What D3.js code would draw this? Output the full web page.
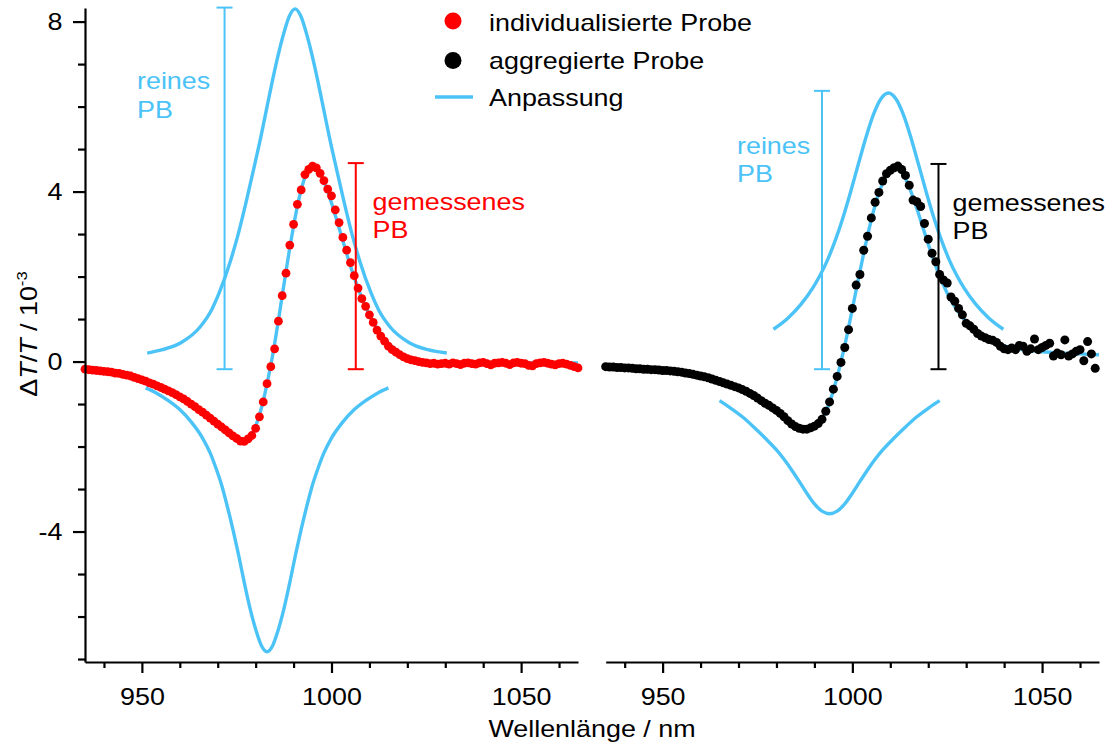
<!DOCTYPE html>
<html><head><meta charset="utf-8">
<script src="https://cdn.jsdelivr.net/npm/d3@7"></script>
<style>body{margin:0;background:#fff} svg{display:block}</style>
</head><body><svg id="chart" width="1109" height="746"></svg>
<script>
// ---------- data ----------
const xDomain = [935, 1065];
const yDomain = [-7.07, 8.32];
const xMajorTicks = [950, 1000, 1050];
const xMinorTicks = [940, 960, 970, 980, 990, 1010, 1020, 1030, 1040, 1060];
const yMajorTicks = [-4, 0, 4, 8];
const yMinorTicks = [-7, -6, -5, -3, -2, -1, 1, 2, 3, 5, 6, 7];

// individualisierte Probe (red), 935..1065 nm
const redX = [935,936,937,938,939,940,941,942,943,944,945,946,947,948,949,950,951,952,953,954,955,956,957,958,959,960,961,962,963,964,965,966,967,968,969,970,971,972,973,974,975,976,977,978,979,980,981,982,983,984,985,986,987,988,989,990,991,992,993,994,995,996,997,998,999,1000,1001,1002,1003,1004,1005,1006,1007,1008,1009,1010,1011,1012,1013,1014,1015,1016,1017,1018,1019,1020,1021,1022,1023,1024,1025,1026,1027,1028,1029,1030,1031,1032,1033,1034,1035,1036,1037,1038,1039,1040,1041,1042,1043,1044,1045,1046,1047,1048,1049,1050,1051,1052,1053,1054,1055,1056,1057,1058,1059,1060,1061,1062,1063,1064,1065];
const redY = [
-0.18,-0.19,-0.20,-0.21,-0.22,-0.23,-0.24,-0.25,-0.27,-0.28,
-0.30,-0.32,-0.34,-0.37,-0.40,-0.43,-0.46,-0.50,-0.53,-0.57,
-0.61,-0.65,-0.69,-0.73,-0.78,-0.83,-0.88,-0.94,-1.00,-1.06,
-1.13,-1.19,-1.26,-1.33,-1.40,-1.47,-1.54,-1.61,-1.68,-1.75,
-1.81,-1.87,-1.88,-1.82,-1.74,-1.57,-1.30,-0.95,-0.52,-0.12,
0.30,0.95,1.55,2.08,2.74,3.23,3.70,4.04,4.40,4.52,
4.60,4.56,4.43,4.26,4.06,3.90,3.57,3.27,2.92,2.62,
2.33,2.02,1.73,1.48,1.30,1.10,0.92,0.74,0.60,0.48,
0.36,0.28,0.22,0.16,0.11,0.07,0.04,0.02,0.00,-0.02,
-0.03,-0.05,-0.04,-0.06,-0.05,-0.04,-0.06,-0.03,-0.05,-0.07,
-0.04,-0.03,-0.05,-0.06,-0.03,-0.02,-0.05,-0.08,-0.04,-0.03,
-0.02,-0.04,-0.07,-0.03,-0.02,-0.04,-0.05,-0.09,-0.10,-0.05,
-0.03,-0.02,-0.04,-0.06,-0.08,-0.05,-0.04,-0.06,-0.09,-0.12,
-0.15];

// aggregierte Probe (black), 935..1064 nm
const blackX = [935,936,937,938,939,940,941,942,943,944,945,946,947,948,949,950,951,952,953,954,955,956,957,958,959,960,961,962,963,964,965,966,967,968,969,970,971,972,973,974,975,976,977,978,979,980,981,982,983,984,985,986,987,988,989,990,991,992,993,994,995,996,997,998,999,1000,1001,1002,1003,1004,1005,1006,1007,1008,1009,1010,1011,1012,1013,1014,1015,1016,1017,1018,1019,1020,1021,1022,1023,1024,1025,1026,1027,1028,1029,1030,1031,1032,1033,1034,1035,1036,1037,1038,1039,1040,1041,1042,1043,1044,1045,1046,1047,1048,1049,1050,1051,1052,1053,1054,1055,1056,1057,1058,1059,1060,1061,1062,1063,1064];
const blackY = [
-0.12,-0.13,-0.13,-0.14,-0.14,-0.15,-0.15,-0.16,-0.17,-0.17,
-0.18,-0.18,-0.19,-0.19,-0.20,-0.21,-0.21,-0.22,-0.23,-0.24,
-0.25,-0.27,-0.28,-0.30,-0.32,-0.34,-0.36,-0.38,-0.41,-0.44,
-0.47,-0.50,-0.53,-0.56,-0.59,-0.62,-0.66,-0.70,-0.75,-0.80,
-0.86,-0.92,-0.98,-1.03,-1.09,-1.15,-1.22,-1.30,-1.39,-1.47,
-1.53,-1.57,-1.59,-1.59,-1.56,-1.52,-1.46,-1.36,-1.17,-0.95,
-0.65,-0.35,-0.02,0.33,0.75,1.25,1.80,2.05,2.62,2.95,
3.38,3.75,3.98,4.25,4.42,4.50,4.56,4.60,4.52,4.38,
4.15,3.80,3.76,3.65,3.25,2.88,2.55,2.35,2.05,1.92,
1.85,1.52,1.42,1.25,1.10,0.90,0.84,0.76,0.66,0.60,
0.56,0.52,0.50,0.45,0.36,0.30,0.28,0.32,0.28,0.38,
0.36,0.24,0.30,0.53,0.28,0.33,0.38,0.43,0.13,0.20,
0.16,0.51,0.13,0.18,0.24,0.28,0.02,0.47,0.18,-0.16];

// Anpassung (fit) curves
const fitLX = [935,940,945,950,955,960,965,968,971,974,976,977.5,979,980,981,982,983,984,985,986,987,988,989,990,991,992,993,994,995,996,997,998,999,1000,1001,1002,1003,1004,1005,1006,1007,1008,1009,1010,1012,1014,1016,1018,1020,1023,1027,1035,1045,1055,1065];
const fitLY = [-0.18,-0.23,-0.30,-0.43,-0.61,-0.83,-1.13,-1.33,-1.54,-1.75,-1.85,-1.87,-1.72,-1.52,-1.25,-0.93,-0.52,-0.08,0.42,0.97,1.55,2.12,2.68,3.19,3.66,4.04,4.34,4.52,4.58,4.54,4.42,4.23,4.00,3.73,3.44,3.14,2.84,2.54,2.25,1.98,1.73,1.50,1.29,1.10,0.78,0.53,0.35,0.21,0.11,0.02,-0.02,-0.03,-0.03,-0.03,-0.03];
const fitRX = [935,945,955,965,970,975,980,983,985,987,988.5,990,991.5,993,994,995,996,997,998,999,1000,1001,1002,1003,1004,1005,1006,1007,1008,1009,1010,1011,1012,1013,1014,1015,1016,1017,1018,1019,1020,1021,1022,1023,1024,1025,1026,1028,1030,1032,1034,1036,1038,1040,1045,1050,1055,1060,1065];
const fitRY = [-0.12,-0.18,-0.25,-0.47,-0.62,-0.86,-1.15,-1.37,-1.50,-1.57,-1.58,-1.52,-1.40,-1.18,-0.96,-0.68,-0.36,0.00,0.38,0.80,1.24,1.68,2.12,2.55,2.96,3.34,3.68,3.97,4.20,4.38,4.50,4.55,4.53,4.45,4.30,4.10,3.86,3.60,3.32,3.04,2.76,2.49,2.24,2.01,1.80,1.61,1.44,1.16,0.94,0.77,0.63,0.52,0.43,0.37,0.28,0.23,0.20,0.18,0.16];

// reines PB (pure photobleaching) components
const pureLPosX = [951.4,955.4,960.4,965.4,968.4,970.4,973.4,975.4,977.4,979.4,981.4,982.9,984.4,985.9,987.4,988.9,990.4,991.9,993.4,994.9,996.4,997.9,999.4,1001.4,1003.4,1005.4,1007.4,1010.4,1012.4,1015.4,1020.4,1025.4,1030.4];
const pureLPosY = [0.20,0.28,0.45,0.82,1.22,1.62,2.38,3.00,3.72,4.50,5.30,5.95,6.60,7.20,7.72,8.13,8.30,8.13,7.72,7.20,6.60,5.95,5.30,4.50,3.72,3.00,2.38,1.62,1.22,0.82,0.45,0.28,0.20];
const pureLNegX = [951,954,957,960,963,966,968,969.5,971,972.5,974,975.5,977,978.5,980,981.5,983,984.5,986,987.5,989,990.5,992,993.5,995,996.5,998,1000,1003,1006,1009,1012,1015];
const pureLNegY = [-0.62,-0.75,-0.92,-1.13,-1.42,-1.80,-2.15,-2.50,-2.90,-3.40,-3.95,-4.55,-5.20,-5.80,-6.30,-6.68,-6.83,-6.68,-6.30,-5.80,-5.20,-4.55,-3.95,-3.40,-2.90,-2.50,-2.15,-1.80,-1.42,-1.13,-0.92,-0.75,-0.62];
const pureRPosX = [979.2,983,986.5,989.5,991.5,993.5,995.5,997.5,999.5,1001.5,1003.5,1005.5,1007.5,1009.5,1011.5,1013.5,1015.5,1017.5,1019.5,1021.5,1023.5,1025.5,1027.5,1029.5,1032.5,1036,1039.8];
const pureRPosY = [0.76,1.02,1.35,1.72,2.03,2.40,2.85,3.38,3.98,4.62,5.25,5.80,6.18,6.32,6.18,5.80,5.25,4.62,3.98,3.38,2.85,2.40,2.03,1.72,1.35,1.02,0.76];
const pureRNegX = [965,968,971,974,977,980,982,984,986,988,990,992,994,996,998,1000,1002,1004,1006,1008,1011,1014,1017,1020,1023];
const pureRNegY = [-0.92,-1.10,-1.30,-1.54,-1.80,-2.08,-2.30,-2.55,-2.82,-3.10,-3.35,-3.52,-3.58,-3.52,-3.35,-3.10,-2.82,-2.55,-2.30,-2.08,-1.80,-1.54,-1.30,-1.10,-0.92];

// annotation bars (panel, wavelength, from, to)
const barPanels = ['L', 'L', 'R', 'R'];
const barX = [971.8, 1006.4, 992.0, 1022.7];
const barLow = [-0.18, -0.18, -0.18, -0.18];
const barHigh = [8.33, 4.67, 6.37, 4.65];
const barKinds = ['pure', 'red', 'pure', 'black'];

const legendLabels = ['individualisierte Probe', 'aggregierte Probe', 'Anpassung'];
const annoPure = ['reines', 'PB'];
const annoMeas = ['gemessenes', 'PB'];
const xTitle = 'Wellenlänge / nm';

// ---------- drawing ----------
const BLUE = '#4cc3f7', RED = '#ff0000', BLACK = '#000000';
const FONT = "'Liberation Sans', Arial, Helvetica, sans-serif";
const FS = 24, STRETCH = 1.12;
const colorOf = {pure: BLUE, red: RED, black: BLACK};

const svg = d3.select('#chart');
svg.append('rect').attr('width', 1109).attr('height', 746).attr('fill', '#fff');

const xL = d3.scaleLinear().domain(xDomain).range([85, 578]);
const xR = d3.scaleLinear().domain(xDomain).range([605.7, 1099]);
const y = d3.scaleLinear().domain(yDomain).range([662, 8]);
const xs = {L: xL, R: xR};

const zip = (a, b) => a.map((v, i) => [v, b[i]]);
const lineFor = x => d3.line().x(d => x(d[0])).y(d => y(d[1])).curve(d3.curveMonotoneX);

function curve(x, X, Y, w) {
  svg.append('path').datum(zip(X, Y)).attr('d', lineFor(x))
    .attr('fill', 'none').attr('stroke', BLUE).attr('stroke-width', w)
    .attr('stroke-linecap', 'butt').attr('stroke-linejoin', 'round');
}
curve(xL, pureLPosX, pureLPosY, 3.4);
curve(xL, pureLNegX, pureLNegY, 3.4);
curve(xR, pureRPosX, pureRPosY, 3.4);
curve(xR, pureRNegX, pureRNegY, 3.4);
curve(xL, fitLX, fitLY, 3.4);
curve(xR, fitRX, fitRY, 3.4);

// error bars
barX.forEach((bx, i) => {
  const x = xs[barPanels[i]], c = colorOf[barKinds[i]];
  const g = svg.append('g').attr('stroke', c).attr('stroke-width', 2);
  const px = x(bx);
  g.append('line').attr('x1', px).attr('x2', px).attr('y1', y(barLow[i])).attr('y2', y(barHigh[i]));
  [barLow[i], barHigh[i]].forEach(v => g.append('line').attr('x1', px - 8).attr('x2', px + 8).attr('y1', y(v)).attr('y2', y(v)));
});

// data points
svg.append('g').selectAll('circle').data(zip(redX, redY)).join('circle')
  .attr('cx', d => xL(d[0])).attr('cy', d => y(d[1])).attr('r', 4.4).attr('fill', RED);
svg.append('g').selectAll('circle').data(zip(blackX, blackY)).join('circle')
  .attr('cx', d => xR(d[0])).attr('cy', d => y(d[1])).attr('r', 4.5).attr('fill', BLACK);

// axes
function styleAxis(g) {
  g.attr('font-family', FONT).attr('font-size', FS);
  g.selectAll('path,line').attr('stroke', '#000').attr('stroke-width', 2.2);
  g.selectAll('text').attr('fill', '#000');
}
svg.append('g').attr('transform', 'translate(85,0)')
  .call(d3.axisLeft(y).tickValues(yMajorTicks).tickSize(12).tickSizeOuter(0).tickPadding(10.5).tickFormat(d => String(d)))
  .call(styleAxis);
svg.append('g').attr('transform', 'translate(85,0)')
  .call(d3.axisLeft(y).tickValues(yMinorTicks).tickSize(7).tickFormat(''))
  .call(g => g.select('.domain').remove()).call(styleAxis);
[xL, xR].forEach(x => {
  svg.append('g').attr('transform', 'translate(0,662)')
    .call(d3.axisBottom(x).tickValues(xMajorTicks).tickSize(11).tickSizeOuter(0).tickPadding(15).tickFormat(d => String(d)))
    .call(styleAxis);
  svg.append('g').attr('transform', 'translate(0,662)')
    .call(d3.axisBottom(x).tickValues(xMinorTicks).tickSize(6).tickFormat(''))
    .call(g => g.select('.domain').remove()).call(styleAxis);
});

// titles
svg.append('text').attr('x', 592).attr('y', 737).attr('text-anchor', 'middle')
  .attr('font-family', FONT).attr('font-size', FS).text(xTitle);
const yt = svg.append('text').attr('transform', 'translate(37,334) rotate(-90)')
  .attr('text-anchor', 'middle').attr('font-family', FONT).attr('font-size', FS);
yt.append('tspan').text('\u0394');
yt.append('tspan').attr('font-style', 'italic').text('T');
yt.append('tspan').text('/');
yt.append('tspan').attr('font-style', 'italic').text('T');
yt.append('tspan').text(' / 10');
yt.append('tspan').attr('font-size', FS * 0.62).attr('dy', -10).text('-3');

// annotation texts
function twoLines(x, yBase, lines, color) {
  lines.forEach((t, i) => svg.append('text').attr('x', x).attr('y', yBase + i * 28.5)
    .attr('font-family', FONT).attr('font-size', FS).attr('fill', color).text(t));
}
twoLines(137, 89, annoPure, BLUE);
twoLines(372.5, 209.5, annoMeas, RED);
twoLines(737, 153.5, annoPure, BLUE);
twoLines(952.5, 210.5, annoMeas, BLACK);

// legend
const lg = svg.append('g');
lg.append('circle').attr('cx', 453).attr('cy', 21).attr('r', 8.5).attr('fill', RED);
lg.append('circle').attr('cx', 453).attr('cy', 60.5).attr('r', 8.5).attr('fill', BLACK);
lg.append('line').attr('x1', 435).attr('x2', 473).attr('y1', 97).attr('y2', 97).attr('stroke', BLUE).attr('stroke-width', 3.6);
legendLabels.forEach((t, i) => lg.append('text').attr('x', 489).attr('y', [30.5, 68.5, 106][i])
  .attr('font-family', FONT).attr('font-size', FS).attr('fill', '#000').text(t));

// slight horizontal stretch of all text to match the reference's wide lettering
svg.selectAll('text').each(function () {
  const l = this.getComputedTextLength();
  if (l > 0) { this.setAttribute('textLength', (l * STRETCH).toFixed(1)); this.setAttribute('lengthAdjust', 'spacingAndGlyphs'); }
});
</script></body></html>
